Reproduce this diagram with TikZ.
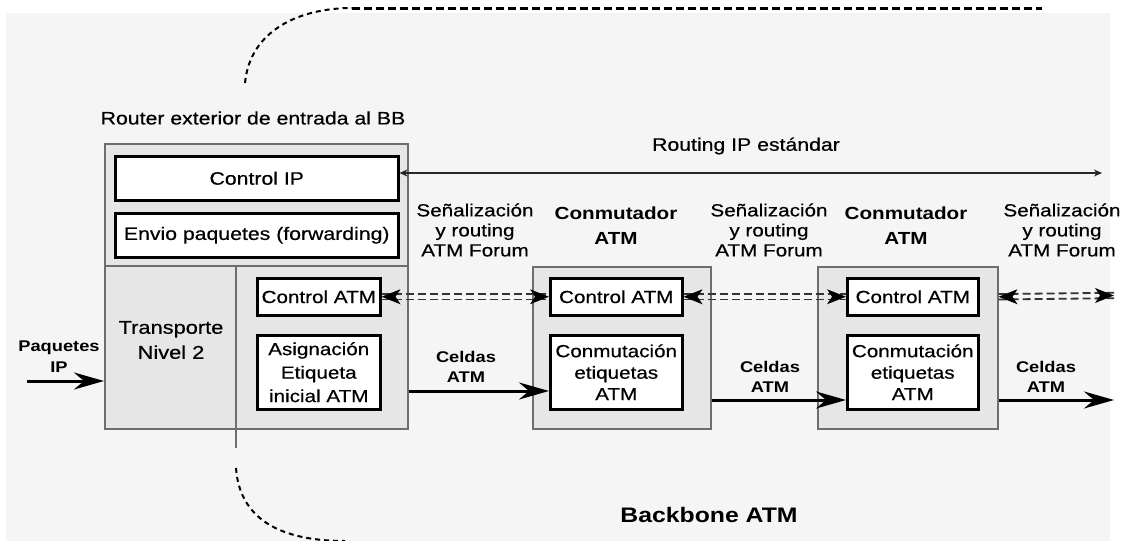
\documentclass[tikz,border=0pt]{standalone}
\usepackage{fontspec}
\setmainfont{Liberation Sans}[FakeStretch=1.18, UprightFeatures={FakeBold=0.5}]
\usetikzlibrary{arrows.meta,calc}
\definecolor{bg}{HTML}{F5F5F5}
\definecolor{boxfill}{HTML}{E6E6E6}
\definecolor{boxline}{HTML}{6E6E6E}
% filled arrow heads for the double dashed connectors
\newcommand\mytipL[1]{\fill[black] (#1) -- ++(19,-7.5) -- ++(-5,7.5) -- ++(5,7.5) -- cycle;}
\newcommand\mytipR[1]{\fill[black] (#1) -- ++(-19,-7.5) -- ++(5,7.5) -- ++(-5,7.5) -- cycle;}
\begin{document}
\begin{tikzpicture}[x=1pt,y=-1pt,
  outerbox/.style={draw=boxline, fill=boxfill, line width=1.5pt, inner sep=0pt, anchor=north west},
  innerbox/.style={draw=black, fill=white, line width=2.5pt, inner sep=0pt, anchor=north west, align=center},
  lbl/.style={align=center, inner sep=0pt, text=black},
  cel/.style={line width=3pt, -{Stealth[length=30pt,width=17pt,inset=10pt]}},
  dsh/.style={line width=1.8pt, draw=black!80, dash pattern=on 8pt off 4pt},
  curvd/.style={line width=2pt, dash pattern=on 5pt off 4pt}
]
\useasboundingbox (0,0) rectangle (1128,541);
\fill[bg] (6,13) rectangle (1110,541);

% dashed outline of backbone
\draw[curvd] (245,83) .. controls (250,30) and (300,8) .. (352,8);
\draw[line width=3pt, dash pattern=on 8pt off 4pt] (352,8) -- (1042,8);
\draw[curvd] (236,468) .. controls (240,525) and (290,541) .. (345,541);

% router
\node[outerbox, minimum width=303pt, minimum height=285pt] (router) at (104,143) {};
\draw[boxline, line width=1.5pt] (router.west |- 0,266) -- (router.east |- 0,266);
\draw[boxline, line width=1.5pt] (236,266) -- (236,448);
\node[lbl, font=\fontsize{18}{20}\selectfont] (rtitle) at (253,118) {Router exterior de entrada al BB};
\node[innerbox, minimum width=283pt, minimum height=44pt, font=\fontsize{18}{20}\selectfont] (cip) at (114,155) {Control IP};
\node[innerbox, minimum width=283pt, minimum height=44pt, font=\fontsize{18}{20}\selectfont] (env) at (114,212) {Envio paquetes (forwarding)};
\node[innerbox, minimum width=123pt, minimum height=37pt, font=\fontsize{17.5}{20}\selectfont] (ca1) at (256,277) {Control ATM};
\node[innerbox, minimum width=123pt, minimum height=74pt, font=\fontsize{17.5}{23.5}\selectfont] (asg) at (256,334) {Asignación\\Etiqueta\\inicial ATM};
\node[lbl, font=\fontsize{18.5}{25}\selectfont] (trn) at (171,340) {Transporte\\Nivel 2};

% switch 1
\node[outerbox, minimum width=178pt, minimum height=162pt] (sw1) at (532,266) {};
\node[innerbox, minimum width=132pt, minimum height=37pt, font=\fontsize{17.5}{20}\selectfont] (ca2) at (549,277) {Control ATM};
\node[innerbox, minimum width=132pt, minimum height=74pt, font=\fontsize{17.5}{21.5}\selectfont] (cs1) at (549,334) {Conmutación\\etiquetas\\ATM};

% switch 2
\node[outerbox, minimum width=180pt, minimum height=162pt] (sw2) at (817,266) {};
\node[innerbox, minimum width=131pt, minimum height=37pt, font=\fontsize{17.5}{20}\selectfont] (ca3) at (846,277) {Control ATM};
\node[innerbox, minimum width=131pt, minimum height=74pt, font=\fontsize{17.5}{21.5}\selectfont] (cs2) at (846,334) {Conmutación\\etiquetas\\ATM};

% labels
\node[lbl, font=\fontsize{18}{20}\selectfont] (rip) at (746,146) {Routing IP estándar};
\node[lbl, font=\fontsize{17.5}{20}\selectfont] (sen1) at (475,230) {Señalización\\y routing\\ATM Forum};
\node[lbl, font=\fontsize{17.5}{20}\selectfont] (sen2) at (769,230) {Señalización\\y routing\\ATM Forum};
\node[lbl, font=\fontsize{17.5}{20}\selectfont] (sen3) at (1062,230) {Señalización\\y routing\\ATM Forum};
\node[lbl, font=\fontsize{17.5}{25}\selectfont\bfseries] (con1) at (616,225.5) {Conmutador\\ATM};
\node[lbl, font=\fontsize{17.5}{25}\selectfont\bfseries] (con2) at (906,225.5) {Conmutador\\ATM};
\node[lbl, font=\fontsize{15.5}{20}\selectfont\bfseries] (cel1) at (466,367) {Celdas\\ATM};
\node[lbl, font=\fontsize{15.5}{20}\selectfont\bfseries] (cel2) at (770,376.5) {Celdas\\ATM};
\node[lbl, font=\fontsize{15.5}{20}\selectfont\bfseries] (cel3) at (1046,376.5) {Celdas\\ATM};
\node[lbl, font=\fontsize{15.5}{21}\selectfont\bfseries] (paq) at (59,356.5) {Paquetes\\IP};
\node[lbl, font=\fontsize{21}{24}\selectfont\bfseries] (bb) at (709,515) {Backbone ATM};

% free ends
\coordinate (rend) at (1102,173);
\coordinate (pin) at (27,381);
\coordinate (cend) at (1114,400);
\coordinate (dend) at (1114,295.5);
\coordinate (dstart) at (sw2.east |- ca3.east);

% routing IP arrow
\draw[line width=1.2pt, draw=black!85, {Stealth[length=8pt,width=7pt]}-{Stealth[length=8pt,width=7pt]}] (cip.east |- 0,173) -- (rend);

% cell arrows
\draw[cel] (pin) -- (router.west |- pin);
\draw[cel] (router.east |- 0,391) -- (cs1.west |- 0,391);
\draw[cel] (sw1.east |- 0,400) -- (cs2.west |- 0,400);
\draw[cel] (sw2.east |- 0,400) -- (cend);

% dashed double signalling arrows
\foreach \s in {2.7pt,-2.7pt}{
  \draw[dsh, transform canvas={yshift=\s}] (ca1.east) -- (ca2.west);
  \draw[dsh, transform canvas={yshift=\s}] (ca2.east) -- (ca3.west);
  \draw[dsh, transform canvas={yshift=\s}] (dstart) -- (dend);
}
\mytipL{ca1.east}
\mytipR{ca2.west}
\mytipL{ca2.east}
\mytipR{ca3.west}
\mytipL{dstart}
\mytipR{dend}
\end{tikzpicture}
\end{document}
